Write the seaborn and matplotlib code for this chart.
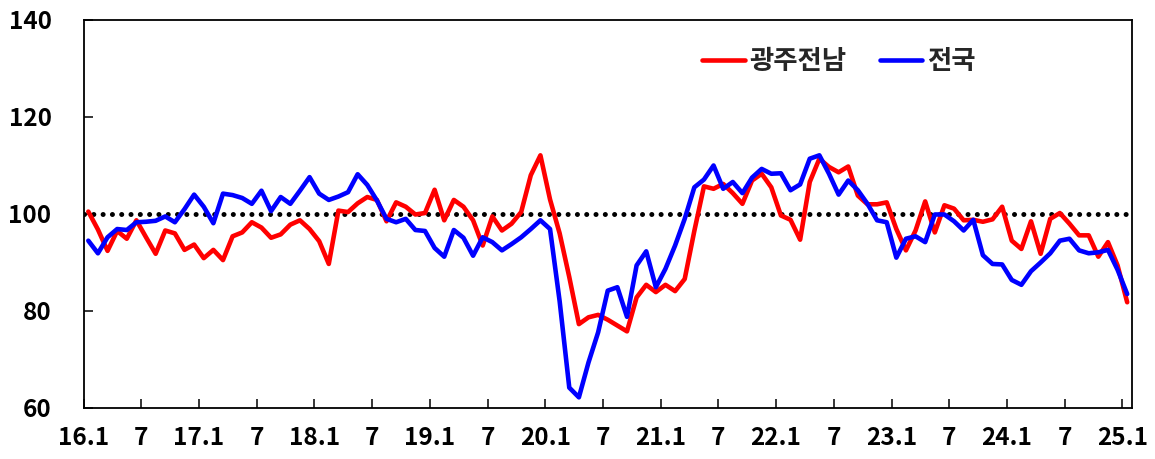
import numpy as np
import pandas as pd
import matplotlib
matplotlib.use('Agg')
import matplotlib.pyplot as plt
import seaborn as sns

# monthly index, 2016.1 ~ 2025.1
gwangju = [100.5, 96.8, 92.4, 96.5, 94.9, 98.7, 95.2, 91.8, 96.6, 96.0,
           92.6, 93.7, 90.9, 92.6, 90.5, 95.4, 96.2, 98.3, 97.2, 95.1,
           95.8, 97.8, 98.7, 96.9, 94.4, 89.7, 100.7, 100.4, 102.2, 103.5,
           102.9, 98.5, 102.4, 101.5, 99.9, 100.2, 105.0, 98.7, 102.9, 101.5,
           98.7, 93.5, 99.5, 96.6, 98.0, 100.4, 108.0, 112.1, 103.0, 96.0,
           87.0, 77.3, 78.7, 79.2, 78.2, 77.0, 75.8, 82.8, 85.4, 83.9,
           85.4, 84.1, 86.6, 96.5, 105.7, 105.2, 106.2, 104.3, 102.1, 106.9,
           108.3, 105.5, 99.7, 98.8, 94.7, 106.6, 111.4, 109.7, 108.6, 109.8,
           103.8, 102.0, 102.0, 102.4, 96.9, 92.5, 96.6, 102.6, 96.2, 101.8,
           101.1, 98.7, 98.8, 98.4, 98.9, 101.5, 94.5, 92.8, 98.5, 91.8,
           99.0, 100.2, 98.0, 95.6, 95.6, 91.2, 94.2, 89.4, 81.8]
national = [94.5, 91.9, 95.2, 96.9, 96.7, 98.3, 98.4, 98.6, 99.5, 98.3,
            101.0, 104.0, 101.5, 98.1, 104.2, 103.9, 103.3, 102.1, 104.8, 100.6,
            103.5, 102.1, 104.8, 107.6, 104.2, 102.9, 103.6, 104.5, 108.2, 106.0,
            102.8, 99.0, 98.3, 99.0, 96.7, 96.5, 93.0, 91.2, 96.7, 95.1,
            91.4, 95.2, 94.2, 92.5, 93.8, 95.2, 96.9, 98.7, 96.9, 82.0,
            64.2, 62.2, 69.4, 75.6, 84.2, 84.9, 78.8, 89.4, 92.3, 84.9,
            88.7, 93.5, 99.0, 105.5, 107.1, 110.0, 105.2, 106.6, 104.3, 107.5,
            109.3, 108.3, 108.4, 104.9, 106.1, 111.4, 112.1, 108.3, 104.0, 106.9,
            104.9, 102.1, 98.7, 98.3, 91.0, 94.9, 95.4, 94.2, 99.9, 99.9,
            98.5, 96.6, 98.8, 91.5, 89.7, 89.6, 86.4, 85.4, 88.2, 90.0,
            91.9, 94.5, 94.9, 92.5, 91.9, 92.1, 92.6, 88.5, 83.5]
series_names = ['광주전남', '전국']
tick_labels = ['16.1', '7', '17.1', '7', '18.1', '7', '19.1', '7', '20.1', '7',
               '21.1', '7', '22.1', '7', '23.1', '7', '24.1', '7', '25.1']
yticks = [60, 80, 100, 120, 140]

n = len(gwangju)
df = pd.DataFrame({
    'month': list(range(n)) * 2,
    'value': gwangju + national,
    'region': [series_names[0]] * n + [series_names[1]] * n,
})

sns.set_style('ticks')
plt.rcParams['font.family'] = ['Noto Sans CJK KR', 'DejaVu Sans']
plt.rcParams['font.weight'] = 'bold'

fig = plt.figure(figsize=(11.55, 4.59), dpi=100)
ax = fig.add_axes([83.5 / 1155, 1 - 408 / 459, (1132 - 83.5) / 1155, (408 - 20) / 459])

ax.axhline(100, color='black', lw=3.6, linestyle=(0, (0.01, 1.85)),
           dash_capstyle='round', zorder=1)
sns.lineplot(data=df, x='month', y='value', hue='region',
             palette={series_names[0]: '#ff0000', series_names[1]: '#0000ff'},
             linewidth=3.3, ax=ax, zorder=2)

ax.set_xlim(-0.5, n - 0.5)
ax.set_ylim(60, 140)
ax.set_xticks(np.arange(len(tick_labels)) * 6 - 0.5)
ax.set_xticklabels(tick_labels)
ax.set_yticks(yticks)
ax.set_xlabel('')
ax.set_ylabel('')
ax.tick_params(axis='both', direction='in', length=6.5, width=1.1,
               labelsize=17.5, colors='black')
ax.tick_params(axis='x', pad=13)
ax.tick_params(axis='y', pad=23)
for lab in ax.get_xticklabels() + ax.get_yticklabels():
    lab.set_fontweight('bold')
for sp in ax.spines.values():
    sp.set_visible(True)
    sp.set_linewidth(1.3)
    sp.set_color('black')

leg = ax.legend(loc='center', bbox_to_anchor=(0.7206, 0.892), ncol=2,
                frameon=False, fontsize=19, handlelength=1.6,
                handletextpad=0.2, columnspacing=1.25)
for t in leg.get_texts():
    t.set_fontweight('bold')
for h in leg.get_lines():
    h.set_linewidth(3.3)

fig.savefig('out.png', dpi=100)
